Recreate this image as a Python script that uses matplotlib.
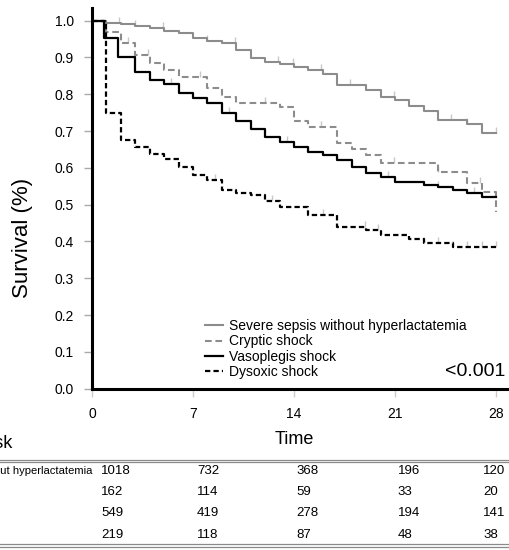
import numpy as np
import matplotlib
matplotlib.use('Agg')
import matplotlib.pyplot as plt
from matplotlib.lines import Line2D
from matplotlib.path import Path
import matplotlib.transforms as mtransforms

plt.rcParams['font.family'] = ['Liberation Sans', 'DejaVu Sans']

# Kaplan-Meier steps (time in days, survival)
sev_t = [0, 1, 2, 3, 4, 5, 6, 7, 8, 9, 10, 11, 12, 13, 14, 15, 16, 17, 19, 20, 21, 22, 23, 24, 26, 27, 28]
sev_s = [1.0, 0.995, 0.991, 0.985, 0.979, 0.972, 0.966, 0.953, 0.946, 0.939, 0.920, 0.898, 0.889,
         0.882, 0.875, 0.866, 0.855, 0.825, 0.812, 0.793, 0.785, 0.768, 0.755, 0.730, 0.719, 0.694, 0.694]

cry_t = [0, 1, 2, 3, 4, 5, 6, 8, 9, 10, 13, 14, 15, 17, 18, 19, 20, 24, 26, 27, 28]
cry_s = [1.0, 0.970, 0.940, 0.907, 0.884, 0.866, 0.846, 0.816, 0.793, 0.777, 0.766, 0.728, 0.712,
         0.667, 0.650, 0.635, 0.612, 0.588, 0.560, 0.535, 0.48]

vas_t = [0, 0.8, 1.8, 3, 4, 5, 6, 7, 8, 9, 10, 11, 12, 13, 14, 15, 16, 17, 18, 19, 20, 21, 23, 24, 25, 26, 27, 28]
vas_s = [1.0, 0.952, 0.900, 0.861, 0.839, 0.828, 0.803, 0.789, 0.776, 0.748, 0.728, 0.705, 0.685,
         0.671, 0.658, 0.644, 0.635, 0.621, 0.603, 0.585, 0.576, 0.562, 0.554, 0.549, 0.540, 0.531, 0.522, 0.522]

dys_t = [0, 1, 2, 3, 4, 5, 6, 7, 8, 9, 10, 11, 12, 13, 15, 17, 19, 20, 22, 23, 25, 28]
dys_s = [1.0, 0.748, 0.676, 0.658, 0.638, 0.623, 0.603, 0.581, 0.567, 0.540, 0.531, 0.526, 0.510,
         0.495, 0.472, 0.440, 0.430, 0.418, 0.406, 0.397, 0.386, 0.386]

# censoring marks
sev_c = [1.9, 3, 4.9, 8, 9.9, 12.9, 13.9, 15.9, 17.9, 20.9, 24.9, 26, 28]
cry_c = [2.5, 3.9, 7.5, 12, 15.9, 20.9, 24, 26.9]
vas_c = [5.5, 9.5, 13.5, 15, 17, 20.5, 24, 26.5]
dys_c = [8.5, 12.5, 16, 18.9, 19.8, 23, 24, 25, 26, 27, 28]

labels = ['Severe sepsis without hyperlactatemia', 'Cryptic shock',
          'Vasoplegis shock', 'Dysoxic shock']
days = [0, 7, 14, 21, 28]
at_risk = [[1018, 732, 368, 196, 120],
           [162, 114, 59, 33, 20],
           [549, 419, 278, 194, 141],
           [219, 118, 87, 48, 38]]

W, H = 509, 550
fig = plt.figure(figsize=(W / 100, H / 100), dpi=100)

ppd = 14.43  # pixels per day
axw = 29.5 * ppd
axh = 388.7 - 8
ax = fig.add_axes([92 / W, 1 - 388.7 / H, axw / W, axh / H])
ax.set_xlim(0, 29.5)
ax.set_ylim(0, 1.0345)

gray = '#8c8c8c'
styles = [dict(color=gray, lw=1.5, ls='-'),
          dict(color=gray, lw=1.5, ls=(0, (3.2, 1.8))),
          dict(color='black', lw=1.6, ls='-'),
          dict(color='black', lw=1.6, ls=(0, (2.4, 1.4)))]

tick_up = Path([(0, 0), (0, 1)])
handles = []
for t, s, c, st, lab in zip([sev_t, cry_t, vas_t, dys_t], [sev_s, cry_s, vas_s, dys_s],
                            [sev_c, cry_c, vas_c, dys_c], styles, labels):
    ln, = ax.step(t, s, where='post', label=lab, zorder=3, **st)
    handles.append(ln)
    cy = [s[np.searchsorted(t, x, side='right') - 1] for x in c]
    ax.plot(c, cy, ls='none', marker=tick_up, ms=9, mew=1, color='#c8c8c8', zorder=2)

for side in ['top', 'right']:
    ax.spines[side].set_visible(False)
for side in ['left', 'bottom']:
    ax.spines[side].set_linewidth(2.2)

ax.set_yticks(np.arange(0, 1.01, 0.1))
ax.set_yticklabels(['%.1f' % v for v in np.arange(0, 1.01, 0.1)])
ax.set_xticks(days)
ax.tick_params(axis='y', direction='out', length=6, width=1, color='#aaaaaa', pad=7, labelsize=10)
ax.tick_params(axis='x', direction='out', length=6, width=1, color='#cccccc', pad=7, labelsize=10)

ax.set_ylabel('Survival (%)', fontsize=16)
ax.yaxis.set_label_coords((33 - 92) / axw, (388.7 - 238) / axh)
ax.set_xlabel('Time', fontsize=13)
ax.xaxis.set_label_coords(14 / 29.5, -0.11)

leg = ax.legend(handles=handles, loc='upper left',
                bbox_to_anchor=((205 - 92) / axw, (388.7 - 319) / axh),
                frameon=False, fontsize=10, labelspacing=0.1, handlelength=1.3, handletextpad=0.4,
                borderpad=0, borderaxespad=0)

fig.text(505 / W, 1 - 371 / H, '<0.001', fontsize=14, ha='right', va='center')

# number at risk table
fig.text(12.5 / W, 1 - 443 / H, 'Number at risk', fontsize=13, ha='right', va='center')
for yy in [459.5, 462]:
    fig.add_artist(Line2D([0, 1], [1 - yy / H] * 2, color='#8a8a8a', lw=0.9))
for yy in [544, 546.5]:
    fig.add_artist(Line2D([0, 1], [1 - yy / H] * 2, color='#8a8a8a', lw=0.9))

row_y = [470.5, 492, 513.5, 535]
col_x = [0.62, 7.28, 14.14, 21.2, 27.1]
trans = mtransforms.blended_transform_factory(ax.transData, fig.transFigure)
first = fig.text(92 / W, 1 - row_y[0] / H, labels[0], fontsize=8.1, ha='right', va='center')
fig.canvas.draw()
x0 = first.get_window_extent().x0 / W
for lab, yy in zip(labels[1:], row_y[1:]):
    fig.text(x0, 1 - yy / H, lab, fontsize=8.1, ha='left', va='center')
for row, yy in zip(at_risk, row_y):
    for n, xx in zip(row, col_x):
        fig.text(xx, 1 - yy / H, str(n), fontsize=9.5, ha='left', va='center', transform=trans)

fig.savefig('out.png', dpi=100)
